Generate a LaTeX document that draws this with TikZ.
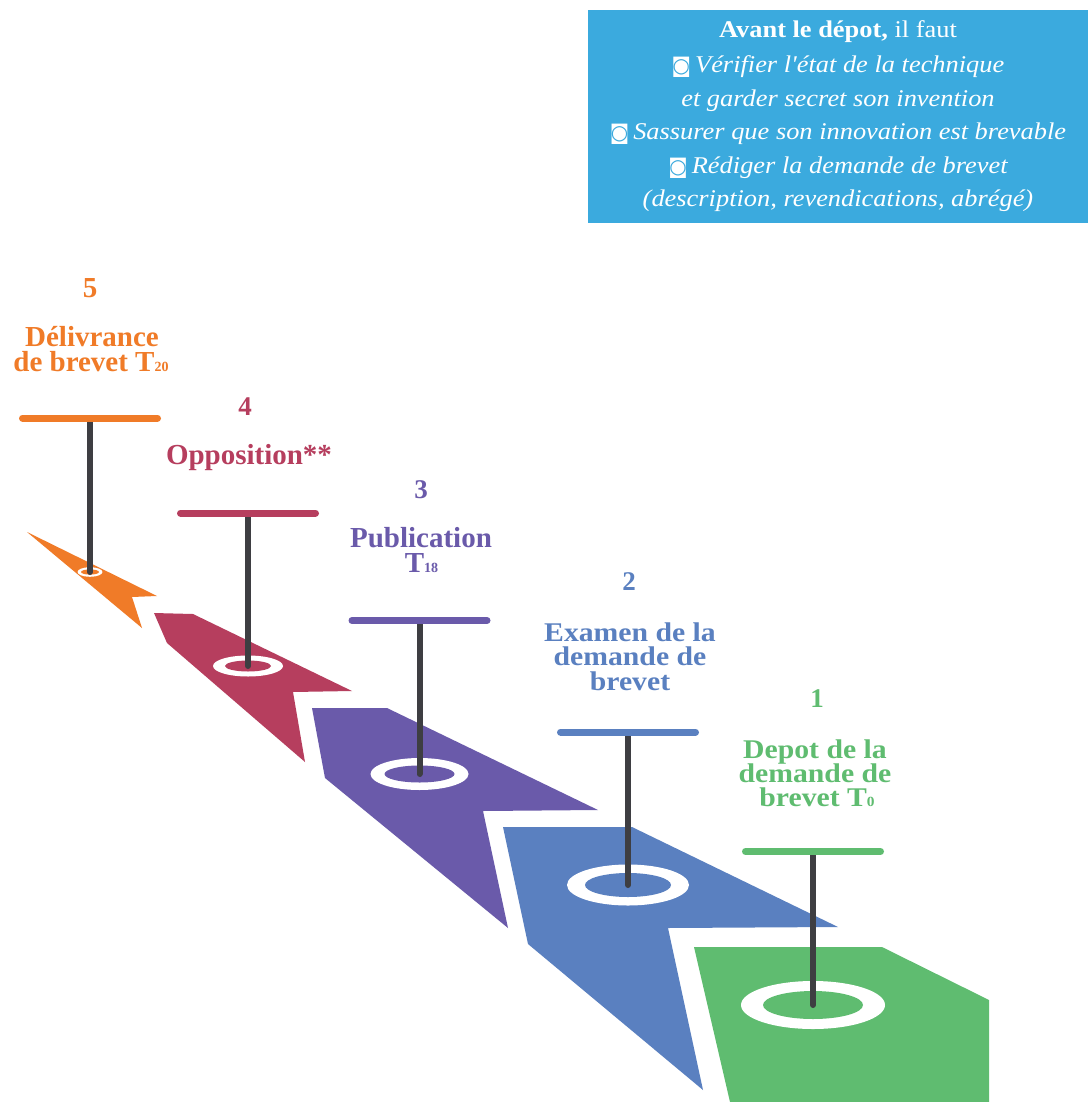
\documentclass[tikz,border=0pt]{standalone}
\usepackage{fontspec}
\setmainfont{Liberation Serif}
\newfontfamily\symfont{DejaVu Sans}
\newfontfamily\stretchserif[FakeStretch=1.1]{Liberation Serif}
\usetikzlibrary{shapes.geometric}
\definecolor{cOrange}{RGB}{240,123,40}
\definecolor{cCrimson}{RGB}{182,62,94}
\definecolor{cPurple}{RGB}{106,90,170}
\definecolor{cBlue}{RGB}{90,128,192}
\definecolor{cGreen}{RGB}{95,188,112}
\definecolor{cStem}{RGB}{62,62,66}
\definecolor{cBox}{RGB}{59,170,222}
\newcommand{\bx}{{\symfont\fontsize{20}{20}\selectfont ◙}\,}
\begin{document}
\begin{tikzpicture}[x=1pt,y=-1pt,
  bar/.style={line width=7pt, line cap=round},
  stem/.style={line width=6pt, draw=cStem, line cap=round},
  num/.style={anchor=base, inner sep=0pt, font=\bfseries\fontsize{27}{27}\selectfont},
  lab/.style={anchor=base, inner sep=0pt, font=\bfseries\fontsize{29}{29}\selectfont},
  wlab/.style={anchor=base, inner sep=0pt, font=\stretchserif\bfseries\fontsize{27}{27}\selectfont},
  boxline/.style={anchor=base, inner sep=0pt, text=white, font=\stretchserif\fontsize{24}{24}\selectfont}
]
\useasboundingbox (0,0) rectangle (1088,1102);
\fill[white] (0,0) rectangle (1088,1102);

% ---------- info box ----------
\node[fill=cBox, minimum width=500pt, minimum height=213pt, inner sep=0pt, anchor=north west] (infobox) at (588,10) {};
\node[boxline] (ib1) at (838,38) {{\bfseries Avant le dépot,} il faut};
\node[boxline] (ib2) at (838,73) {\bx\itshape Vérifier l'état de la technique};
\node[boxline] (ib3) at (838,106.5) {\itshape et garder secret son invention};
\node[boxline] (ib4) at (838,140) {\bx\itshape Sassurer que son innovation est brevable};
\node[boxline] (ib5) at (838,174) {\bx\itshape Rédiger la demande de brevet};
\node[boxline] (ib6) at (838,207) {\itshape (description, revendications, abrégé)};

% ---------- chevrons ----------
\fill[cGreen] (694,947) -- (882,947) -- (989,1000) -- (989,1102) -- (730,1102) -- cycle;
\fill[cBlue] (503,827) -- (632,827) -- (838,927) -- (668,928) -- (703,1090) -- (528,944) -- cycle;
\fill[cPurple] (312,708) -- (387,708) -- (598,810) -- (483,811) -- (508,928) -- (325,778) -- cycle;
\fill[cCrimson] (154,613) -- (193,614) -- (352,691) -- (293,692) -- (305,762) -- (167,643) -- cycle;
\fill[cOrange] (27,532) -- (157,596) -- (132,597) -- (142,628) -- cycle;

% ---------- rings ----------
\coordinate (ring5) at (90,572);
\coordinate (ring4) at (248,666);
\coordinate (ring3) at (419.5,774);
\coordinate (ring2) at (628,885);
\coordinate (ring1) at (813,1005);
\fill[white] (ring5) ellipse [x radius=12.5pt, y radius=4.8pt];
\fill[cOrange] (ring5) ellipse [x radius=9pt, y radius=2.6pt];
\fill[white] (ring4) ellipse [x radius=35pt, y radius=10.5pt];
\fill[cCrimson] (ring4) ellipse [x radius=23pt, y radius=5.5pt];
\fill[white] (ring3) ellipse [x radius=49pt, y radius=16pt];
\fill[cPurple] (ring3) ellipse [x radius=35pt, y radius=8.5pt];
\fill[white] (ring2) ellipse [x radius=61pt, y radius=20.5pt];
\fill[cBlue] (ring2) ellipse [x radius=43pt, y radius=12pt];
\fill[white] (ring1) ellipse [x radius=72pt, y radius=24pt];
\fill[cGreen] (ring1) ellipse [x radius=50pt, y radius=14pt];

% ---------- stems and bars ----------
\coordinate (top5) at (90,418);
\coordinate (top4) at (248,513);
\coordinate (top3) at (419.5,620.5);
\coordinate (top2) at (628,732);
\coordinate (top1) at (813,851.5);
\draw[stem] (top5) -- (ring5);
\draw[stem] (top4) -- (ring4);
\draw[stem] (top3) -- (ring3);
\draw[stem] (top2) -- (ring2);
\draw[stem] (top1) -- (ring1);
\draw[bar, draw=cOrange] ([xshift=-67.5pt]top5) -- ([xshift=67.5pt]top5);
\draw[bar, draw=cCrimson] ([xshift=-67.5pt]top4) -- ([xshift=67.5pt]top4);
\draw[bar, draw=cPurple] ([xshift=-67.5pt]top3) -- ([xshift=67.5pt]top3);
\draw[bar, draw=cBlue] ([xshift=-67.5pt]top2) -- ([xshift=67.5pt]top2);
\draw[bar, draw=cGreen] ([xshift=-67.5pt]top1) -- ([xshift=67.5pt]top1);

% ---------- labels ----------
\node[num, text=cOrange, font=\bfseries\fontsize{29}{29}\selectfont] (n5) at (90,297) {5};
\node[lab, text=cOrange] (l5a) at (92,346) {Délivrance};
\node[lab, text=cOrange] (l5b) at (91,371) {de brevet T{\fontsize{14}{14}\selectfont 20}};

\node[num, text=cCrimson] (n4) at (245,415.7) {4};
\node[lab, text=cCrimson] (l4a) at (249,464) {Opposition**};

\node[num, text=cPurple] (n3) at (421,498) {3};
\node[lab, text=cPurple] (l3a) at (421,547.3) {Publication};
\node[lab, text=cPurple] (l3b) at (421.5,572.7) {T{\fontsize{14}{14}\selectfont 18}};

\node[num, text=cBlue] (n2) at (629,590) {2};
\node[wlab, text=cBlue] (l2a) at (630,641) {Examen de la};
\node[wlab, text=cBlue] (l2b) at (630,665.5) {demande de};
\node[wlab, text=cBlue] (l2c) at (630,690) {brevet};

\node[num, text=cGreen] (n1) at (817,707) {1};
\node[wlab, text=cGreen] (l1a) at (815,758) {Depot de la};
\node[wlab, text=cGreen] (l1b) at (815,782.5) {demande de};
\node[wlab, text=cGreen] (l1c) at (817,806.5) {brevet T{\fontsize{14}{14}\selectfont 0}};
\end{tikzpicture}
\end{document}
